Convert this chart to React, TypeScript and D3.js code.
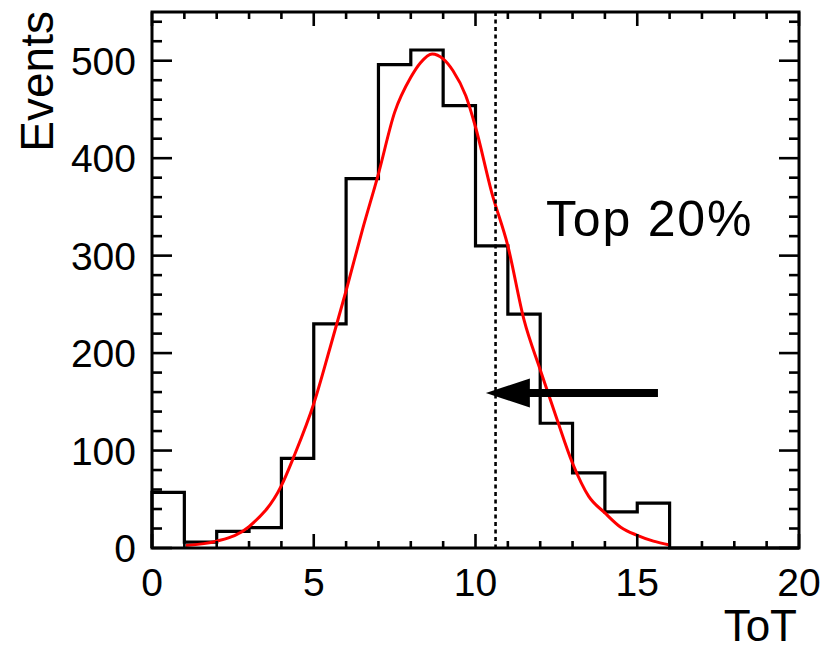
import React from "react";
import * as d3 from "d3";

// Histogram of ToT (bin width 1, 0..20)
const binEdges: number[] = d3.range(0, 21);
const counts: number[] = [57, 6, 17, 21, 92, 230, 379, 496, 511, 454, 310, 240, 128, 77, 37, 46, 0, 0, 0, 0];

// Fitted curve, sampled
const fitX: number[] = [1.05, 2, 3, 4, 4.4, 5, 5.5, 6, 6.5, 7, 7.5, 8, 8.3, 8.66, 9, 9.3, 9.7, 10, 10.5, 11, 11.5, 12, 12.5, 13, 13.5, 14, 14.5, 15, 15.5, 16];
const fitY: number[] = [2.5, 7, 22, 64, 95, 148, 205, 264, 326, 384, 447, 483, 498, 507, 502, 490, 464, 432, 365, 310, 234, 183, 134, 87, 53, 36, 21, 13, 7, 3];

// Axis ticks
const xMajorTicks: number[] = [0, 5, 10, 15, 20];
const yMajorTicks: number[] = [0, 100, 200, 300, 400, 500];

// Cut value and annotation
const cutValue = 10.62;
const arrowTail = { x: 15.64, y: 159 };
const arrowTip = { x: 10.32, y: 159 };
const annotationText = "Top 20%";
const xTitle = "ToT";
const yTitle = "Events";

const W = 820;
const H = 651;
const left = 152;
const right = 799;
const top = 12;
const bottom = 548;
const font = "'Liberation Sans', Arial, Helvetica, sans-serif";

export default function App() {
  const x = d3.scaleLinear().domain([0, 20]).range([left, right]);
  const y = d3.scaleLinear().domain([0, 550]).range([bottom, top]);

  // step outline of the histogram
  const p = d3.path();
  p.moveTo(x(binEdges[0]), y(0));
  counts.forEach((c, i) => {
    p.lineTo(x(binEdges[i]), y(c));
    p.lineTo(x(binEdges[i + 1]), y(c));
  });
  p.lineTo(x(binEdges[binEdges.length - 1]), y(0));

  const fitLine = d3
    .line<number>()
    .x((_, i) => x(fitX[i]))
    .y((d) => y(d))
    .curve(d3.curveMonotoneX)(fitY);

  const xMinor = d3.range(0, 21, 1).filter((v) => v % 5 !== 0);
  const yMinor = d3.range(0, 541, 20).filter((v) => v % 100 !== 0);

  const tickStroke = { stroke: "#000", strokeWidth: 2.6 };

  const ax = x(arrowTip.x);
  const ay = y(arrowTip.y);
  const headLen = 44;
  const headHalf = 14.5;

  return (
    <svg
      width={W}
      height={H}
      style={{ position: "absolute", left: 0, top: 0, background: "#fff" }}
      fontFamily={font}
    >
      <rect x={0} y={0} width={W} height={H} fill="#fff" />

      {/* histogram */}
      <path d={p.toString()} fill="none" stroke="#000" strokeWidth={3.2} strokeLinejoin="miter" />

      {/* fit */}
      <path d={fitLine ?? ""} fill="none" stroke="#ff0000" strokeWidth={3} />

      {/* cut line */}
      <line
        x1={x(cutValue)}
        x2={x(cutValue)}
        y1={top}
        y2={bottom}
        stroke="#000"
        strokeWidth={2.6}
        strokeDasharray="4,3.5"
      />

      {/* arrow */}
      <line x1={x(arrowTail.x)} x2={ax + headLen - 2} y1={ay} y2={ay} stroke="#000" strokeWidth={8} />
      <path
        d={`M${ax},${ay} L${ax + headLen},${ay - headHalf} L${ax + headLen},${ay + headHalf} Z`}
        fill="#000"
      />

      {/* ticks: bottom & top */}
      {xMajorTicks.map((t) => (
        <g key={"xM" + t}>
          <line x1={x(t)} x2={x(t)} y1={bottom} y2={bottom - 14} {...tickStroke} />
          <line x1={x(t)} x2={x(t)} y1={top} y2={top + 14} {...tickStroke} />
        </g>
      ))}
      {xMinor.map((t) => (
        <g key={"xm" + t}>
          <line x1={x(t)} x2={x(t)} y1={bottom} y2={bottom - 7} {...tickStroke} />
          <line x1={x(t)} x2={x(t)} y1={top} y2={top + 7} {...tickStroke} />
        </g>
      ))}
      {/* ticks: left & right */}
      {yMajorTicks.map((t) => (
        <g key={"yM" + t}>
          <line x1={left} x2={left + 20} y1={y(t)} y2={y(t)} {...tickStroke} />
          <line x1={right} x2={right - 20} y1={y(t)} y2={y(t)} {...tickStroke} />
        </g>
      ))}
      {yMinor.map((t) => (
        <g key={"ym" + t}>
          <line x1={left} x2={left + 10} y1={y(t)} y2={y(t)} {...tickStroke} />
          <line x1={right} x2={right - 10} y1={y(t)} y2={y(t)} {...tickStroke} />
        </g>
      ))}

      {/* frame */}
      <rect
        x={left}
        y={top}
        width={right - left}
        height={bottom - top}
        fill="none"
        stroke="#000"
        strokeWidth={3}
      />

      {/* tick labels */}
      {xMajorTicks.map((t) => (
        <text key={"xl" + t} x={x(t)} y={596} textAnchor="middle" fontSize={39} fill="#000">
          {t}
        </text>
      ))}
      {yMajorTicks.map((t) => (
        <text key={"yl" + t} x={136} y={y(t)} dy="0.36em" textAnchor="end" fontSize={39} fill="#000">
          {t}
        </text>
      ))}

      {/* titles */}
      <text x={797} y={641} textAnchor="end" fontSize={44} fill="#000">
        {xTitle}
      </text>
      <text
        transform={`translate(53,11) rotate(-90)`}
        textAnchor="end"
        fontSize={46}
        fill="#000"
      >
        {yTitle}
      </text>

      {/* annotation */}
      <text x={546} y={236} fontSize={50} letterSpacing={1.8} fill="#000">
        {annotationText}
      </text>
    </svg>
  );
}
